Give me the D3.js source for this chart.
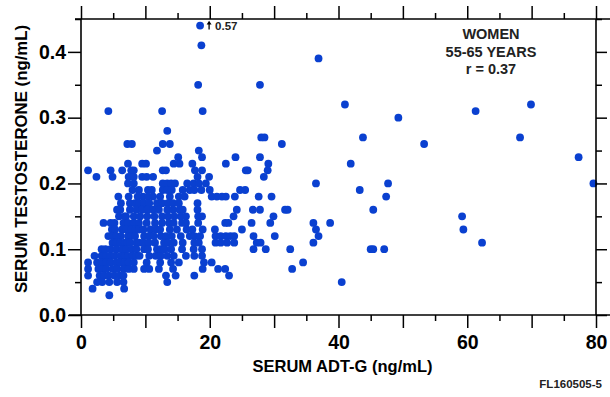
<!DOCTYPE html>
<html>
<head>
<meta charset="utf-8">
<script src="https://cdn.jsdelivr.net/npm/d3@7"></script>
<style>
  body { margin: 0; background: #fff; }
  svg { display: block; font-family: "Liberation Sans", Arial, sans-serif; font-weight: bold; }
</style>
</head>
<body>
<div id="chart"></div>
<script>
// testosterone readings are in steps of 0.01, so points are grouped by level
const testosteroneLevels = [0.57, 0.41, 0.39, 0.35, 0.32, 0.31, 0.30, 0.28, 0.27, 0.26, 0.25, 0.24, 0.23, 0.22,
  0.21, 0.20, 0.19, 0.18, 0.17, 0.16, 0.15, 0.14, 0.13, 0.12, 0.11, 0.10, 0.09, 0.08, 0.07, 0.06, 0.05, 0.04, 0.03];

// ADT-G values (ng/mL) for each level above
const adtGByLevel = [
  [18.5],
  [18.7],
  [36.9],
  [18.2, 27.8],
  [41.0, 69.9],
  [4.25, 12.6, 18.9, 61.3],
  [49.3],
  [13.4],
  [28.0, 28.5, 43.8, 68.2],
  [7.2, 7.9, 12.7, 13.8, 31.2, 53.3],
  [11.8, 18.3],
  [15.1, 18.8, 24.0, 27.8, 77.3],
  [7.3, 9.5, 10.1, 14.4, 15.3, 17.3, 22.5, 29.1, 41.9],
  [1.1, 4.6, 6.4, 7.8, 8.2, 12.7, 13.2, 17.7, 18.8, 25.6, 25.9, 29.0],
  [2.4, 4.9, 7.4, 8.2, 9.5, 10.2, 11.2, 18.1, 19.9, 28.4],
  [7.3, 8.2, 12.7, 13.4, 14.0, 14.6, 16.5, 17.5, 18.3, 19.4, 36.5, 47.7, 79.6],
  [8.0, 9.0, 10.4, 11.0, 12.7, 13.4, 14.1, 15.8, 16.9, 17.6, 18.7, 20.0, 24.7, 25.5, 43.3],
  [5.8, 7.4, 8.8, 9.6, 10.4, 11.2, 12.3, 13.8, 15.2, 16.1, 20.3, 21.1, 21.9, 22.5, 23.9, 27.6, 29.6, 47.4],
  [6.2, 7.6, 8.4, 9.0, 9.8, 10.6, 11.8, 12.6, 13.5, 14.3, 15.2, 18.1],
  [5.6, 6.1, 7.6, 8.6, 9.5, 10.3, 11.2, 12.1, 13.4, 14.3, 15.3, 15.8, 18.1, 24.2, 26.7, 27.8, 31.7, 32.1, 45.4],
  [5.9, 6.8, 7.0, 8.2, 9.2, 10.3, 11.4, 12.6, 13.5, 14.5, 15.5, 16.3, 18.2, 18.8, 23.7, 29.9, 59.2],
  [3.5, 4.6, 5.2, 6.6, 7.3, 8.2, 9.0, 10.2, 11.5, 12.6, 13.7, 14.4, 15.7, 16.3, 18.2, 22.4, 22.9, 26.5, 29.4, 36.1, 38.7],
  [4.8, 5.3, 6.4, 7.1, 7.8, 8.5, 9.0, 9.7, 10.8, 11.6, 12.3, 13.8, 14.9, 16.4, 17.3, 18.9, 20.8, 25.0, 36.5, 59.4],
  [4.25, 5.0, 5.5, 6.2, 7.3, 7.8, 8.4, 9.8, 10.5, 11.3, 12.4, 13.2, 14.1, 15.5, 16.9, 17.6, 18.5, 20.9, 21.7, 22.5, 23.2, 23.8, 26.8, 30.1, 36.9],
  [4.9, 5.5, 6.1, 6.8, 7.2, 7.6, 8.6, 9.0, 9.7, 10.5, 11.5, 12.9, 13.5, 14.4, 15.8, 17.6, 18.3, 20.9, 21.7, 22.7, 23.8, 27.3, 27.9, 36.1, 62.3],
  [3.2, 3.8, 4.6, 5.5, 6.4, 7.0, 7.9, 8.6, 9.8, 10.4, 11.8, 12.4, 13.0, 14.0, 15.7, 17.5, 18.8, 26.8, 28.7, 32.5, 45.0, 45.4, 47.1],
  [2.1, 3.2, 3.9, 4.5, 5.2, 6.1, 6.8, 7.3, 8.0, 8.6, 9.1, 10.6, 11.6, 12.4, 13.4, 14.4, 16.3, 17.6, 18.8],
  [1.1, 2.5, 3.3, 3.9, 4.6, 5.5, 6.1, 6.8, 7.4, 8.2, 10.2, 12.3, 14.0, 15.2, 19.1, 20.3, 34.5],
  [1.1, 2.7, 3.3, 3.9, 4.9, 5.6, 6.6, 7.4, 8.2, 9.8, 10.6, 12.1, 14.3, 18.9, 21.3, 22.4, 32.8],
  [1.1, 2.9, 3.6, 4.3, 5.2, 6.0, 6.6, 13.2, 14.7, 17.6, 23.0],
  [2.5, 3.3, 4.4, 5.6, 6.6, 13.4, 40.5],
  [1.8, 6.7],
  [4.4]
];

const xTicks = [0, 20, 40, 60, 80];
const yTicks = [0, 0.1, 0.2, 0.3, 0.4];
const legendLines = ["WOMEN", "55-65 YEARS", "r = 0.37"];

const width = 610, height = 397;
const margin = { top: 19, right: 14, bottom: 82, left: 81 };
const yMaxPlotted = 0.44; // values above this are drawn at the top with an arrow
const dotColor = "#0a40d0";

const svg = d3.select("#chart")
  .append("svg")
    .attr("width", width)
    .attr("height", height);

const x = d3.scaleLinear().domain([0, 80]).range([margin.left, width - margin.right]);
const y = d3.scaleLinear().domain([0, 0.45]).range([height - margin.bottom, margin.top]);

const points = [];
testosteroneLevels.forEach((t, i) => {
  adtGByLevel[i].forEach(a => points.push({ adt: a, t: t }));
});

// dots
svg.append("g")
  .selectAll("circle")
  .data(points)
  .join("circle")
    .attr("cx", d => x(d.adt))
    .attr("cy", d => y(Math.min(d.t, yMaxPlotted)))
    .attr("r", 3.9)
    .attr("fill", dotColor);

// off-scale marker
const offScale = points.filter(d => d.t > yMaxPlotted);
const offG = svg.append("g").selectAll("g").data(offScale).join("g")
  .attr("transform", d => `translate(${x(d.adt)},${y(yMaxPlotted)})`);
offG.append("line")
  .attr("x1", 9).attr("x2", 9).attr("y1", 4).attr("y2", -2)
  .attr("stroke", "#000").attr("stroke-width", 1.3);
offG.append("path")
  .attr("d", "M6.5,-1 L9,-4.8 L11.5,-1 Z")
  .attr("fill", "#000");
offG.append("text")
  .attr("x", 15).attr("y", 4.5)
  .attr("font-size", 11.5)
  .attr("fill", "#222")
  .text(d => d.t.toFixed(2));

// axes: long ticks every 10 / 0.1, short every 5 / 0.05
const xAll = d3.range(0, 81, 5);
const yAll = d3.range(0, 10).map(i => +(i * 0.05).toFixed(2));
const longX = v => v % 10 === 0;
const longY = v => Math.abs(Math.round(v * 10) - v * 10) < 1e-6;

function styleAxis(g, isLong, attr, sign) {
  g.select(".domain").remove();
  g.selectAll(".tick line")
    .attr("stroke", "#000")
    .attr("stroke-width", 1.5)
    .attr(attr, d => sign * (isLong(d) ? 13 : 6));
  g.selectAll("text").attr("fill", "#000");
}

svg.append("g")
  .attr("transform", `translate(0,${y(0)})`)
  .call(d3.axisBottom(x).tickValues(xAll).tickSize(13).tickPadding(7)
    .tickFormat(d => xTicks.includes(d) ? d : ""))
  .call(g => styleAxis(g, longX, "y2", 1))
  .call(g => g.selectAll("text").attr("font-size", 19.5).attr("font-weight", "bold").attr("font-family", null));

svg.append("g")
  .attr("transform", `translate(0,${y(0.45)})`)
  .call(d3.axisTop(x).tickValues(xAll).tickSize(13).tickFormat(""))
  .call(g => styleAxis(g, longX, "y2", -1));

svg.append("g")
  .attr("transform", `translate(${x(0)},0)`)
  .call(d3.axisLeft(y).tickValues(yAll).tickSize(13).tickPadding(2)
    .tickFormat(d => yTicks.some(t => Math.abs(t - d) < 1e-6) ? d3.format(".1f")(d) : ""))
  .call(g => styleAxis(g, longY, "x2", -1))
  .call(g => g.selectAll("text").attr("font-size", 19.5).attr("font-weight", "bold").attr("font-family", null));

svg.append("g")
  .attr("transform", `translate(${x(80)},0)`)
  .call(d3.axisRight(y).tickValues(yAll).tickSize(11).tickFormat(""))
  .call(g => styleAxis(g, v => longY(v), "x2", 1))
  .call(g => g.selectAll(".tick line").attr("x2", d => longY(d) ? 11 : 6));

// frame lines (top and bottom run a little past the box)
const frame = svg.append("g").attr("stroke", "#000").attr("stroke-width", 1.6);
frame.append("line").attr("x1", x(0) - 12).attr("x2", width).attr("y1", y(0)).attr("y2", y(0));
frame.append("line").attr("x1", x(0) - 6).attr("x2", width).attr("y1", y(0.45)).attr("y2", y(0.45));
frame.append("line").attr("x1", x(0)).attr("x2", x(0)).attr("y1", y(0.45)).attr("y2", y(0));
frame.append("line").attr("x1", x(80)).attr("x2", x(80)).attr("y1", y(0.45)).attr("y2", y(0));

// axis titles
svg.append("text")
  .attr("x", (x(0) + x(80)) / 2 + 4)
  .attr("y", 372)
  .attr("text-anchor", "middle")
  .attr("font-size", 16.5)
  .text("SERUM ADT-G (ng/mL)");

svg.append("text")
  .attr("transform", `translate(27,159) rotate(-90)`)
  .attr("text-anchor", "middle")
  .attr("font-size", 16.8)
  .text("SERUM TESTOSTERONE (ng/mL)");

// legend block
svg.append("g")
  .selectAll("text")
  .data(legendLines)
  .join("text")
    .attr("x", 491)
    .attr("y", (d, i) => 39 + i * 17.5)
    .attr("text-anchor", "middle")
    .attr("font-size", 14.5)
    .attr("fill", "#222")
    .text(d => d);

svg.append("text")
  .attr("x", 602)
  .attr("y", 388)
  .attr("text-anchor", "end")
  .attr("font-size", 11.5)
  .attr("fill", "#222")
  .text("FL160505-5");
</script>
</body>
</html>
